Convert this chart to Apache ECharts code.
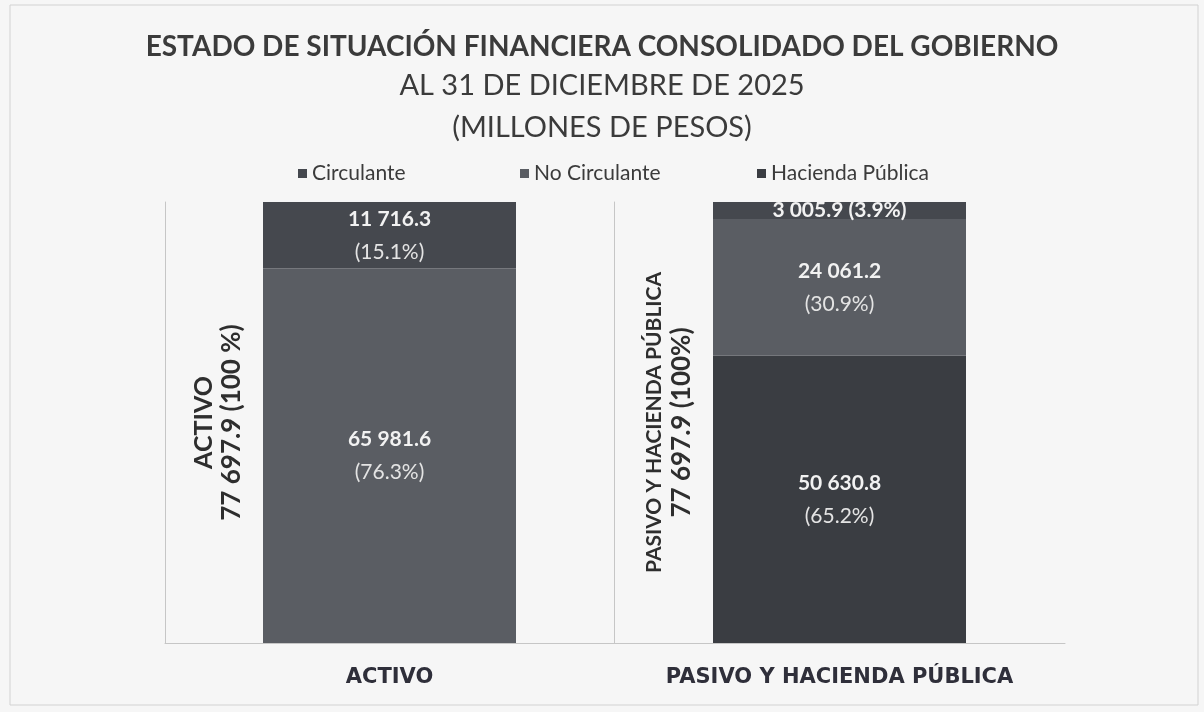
<!DOCTYPE html>
<html>
<head>
<meta charset="utf-8">
<script src="https://cdn.jsdelivr.net/npm/echarts@6/dist/echarts.min.js"></script>
<style>
  html, body { margin: 0; padding: 0; background: #f6f6f6; }
  #chart { width: 1204px; height: 712px; }
</style>
</head>
<body>
<div id="chart"></div>
<script>
// data
const categories = ['ACTIVO', 'PASIVO Y HACIENDA PÚBLICA'];
const legendNames = ['Circulante', 'No Circulante', 'Hacienda Pública'];
const circulante = [11716.3, 3005.9];
const noCirculante = [65981.6, 24061.2];
const haciendaPublica = [null, 50630.8];
const pctCirculante = ['15.1%', '3.9%'];
const pctNoCirculante = ['76.3%', '30.9%'];
const pctHacienda = [null, '65.2%'];
const totals = [77697.9, 77697.9];
const totalPct = ['100 %', '100%'];

const colCirc = '#45484e';
const colNoCirc = '#5a5d63';
const colHac = '#3a3d42';
const font = 'Lato';

const fmt = v => {
    let [i, d] = v.toFixed(1).split('.');
    i = i.replace(/\B(?=(\d{3})+(?!\d))/g, ' ');
    return i + '.' + d;
};

function segLabel(pcts, idx) {
    return {
        show: true,
        position: 'inside',
        formatter: p => {
            const pct = pcts[idx];
            if (p.value / totals[idx] < 0.05) {
                return '{v|' + fmt(p.value) + ' (' + pct + ')}';
            }
            return '{v|' + fmt(p.value) + '}\n{p|(' + pct + ')}';
        },
        rich: {
            v: { color: '#f2f2f2', fontFamily: font, fontWeight: 'bold', fontSize: 21, lineHeight: 33 },
            p: { color: '#e4e4e4', fontFamily: font, fontSize: 21, lineHeight: 33 }
        }
    };
}

const axisLineStyle = { show: true, lineStyle: { color: '#c6c6c6', width: 1 } };
const legendLeft = [293, 515, 752];

const chart = echarts.init(document.getElementById('chart'));
chart.setOption({
    backgroundColor: '#f6f6f6',
    animation: false,
    title: {
        left: 'center',
        top: 28,
        text: 'ESTADO DE SITUACIÓN FINANCIERA CONSOLIDADO DEL GOBIERNO',
        subtext: 'AL 31 DE DICIEMBRE DE 2025\n(MILLONES DE PESOS)',
        itemGap: 4,
        textStyle: { fontFamily: font, fontWeight: 'bold', fontSize: 28, color: '#3b3b3b' },
        subtextStyle: { fontFamily: font, fontSize: 29, color: '#3b3b3b', lineHeight: 42 }
    },
    legend: legendNames.map((n, i) => ({
        left: legendLeft[i],
        top: 158,
        itemWidth: 9,
        itemHeight: 9,
        itemGap: 5,
        icon: 'rect',
        data: [n],
        textStyle: { fontFamily: font, fontSize: 21, color: '#3b3b3b' }
    })),
    graphic: [{
        type: 'rect',
        shape: { x: 10, y: 5, width: 1188, height: 700 },
        style: { fill: null, stroke: '#d2d2d2', lineWidth: 1 },
        silent: true
    }],
    grid: [
        { left: 165, right: 590, top: 202, bottom: 69 },
        { left: 614, right: 139, top: 202, bottom: 69 }
    ],
    xAxis: [0, 1].map(i => ({
        type: 'category',
        gridIndex: i,
        data: [categories[i]],
        axisTick: { show: false },
        axisLine: axisLineStyle,
        axisLabel: {
            margin: 24,
            fontFamily: 'DejaVu Sans',
            fontWeight: 'bold',
            fontSize: 21,
            color: '#2f2f3a'
        }
    })),
    yAxis: [0, 1].map(i => ({
        type: 'value',
        gridIndex: i,
        min: 0,
        max: totals[i],
        axisLabel: { show: false },
        axisTick: { show: false },
        splitLine: { show: false },
        axisLine: axisLineStyle,
        name: i === 0
            ? '{a|' + categories[0] + '}\n{b|' + fmt(totals[0]) + ' (' + totalPct[0] + ')}'
            : '{c|' + categories[1] + '}\n{b|' + fmt(totals[1]) + ' (' + totalPct[1] + ')}',
        nameLocation: 'middle',
        nameRotate: 90,
        nameGap: i === 0 ? -81 : -82,
        nameTextStyle: {
            rich: {
                a: { fontFamily: font, fontWeight: 'bold', fontSize: 25, color: '#2e2e2e', lineHeight: 28 },
                b: { fontFamily: font, fontWeight: 'bold', fontSize: 26, color: '#2e2e2e', lineHeight: 28 },
                c: { fontFamily: font, fontWeight: 'bold', fontSize: 21, color: '#2e2e2e', lineHeight: 28 }
            }
        }
    })),
    series: [
        {
            name: 'No Circulante', type: 'bar', stack: 'a', xAxisIndex: 0, yAxisIndex: 0,
            barWidth: 253, data: [noCirculante[0]],
            itemStyle: { color: colNoCirc }, label: segLabel(pctNoCirculante, 0)
        },
        {
            name: 'Circulante', type: 'bar', stack: 'a', xAxisIndex: 0, yAxisIndex: 0,
            barWidth: 253, data: [circulante[0]],
            itemStyle: { color: colCirc }, label: segLabel(pctCirculante, 0)
        },
        {
            name: 'Hacienda Pública', type: 'bar', stack: 'b', xAxisIndex: 1, yAxisIndex: 1,
            barWidth: 253, data: [haciendaPublica[1]],
            itemStyle: { color: colHac }, label: segLabel(pctHacienda, 1)
        },
        {
            name: 'No Circulante', type: 'bar', stack: 'b', xAxisIndex: 1, yAxisIndex: 1,
            barWidth: 253, data: [noCirculante[1]],
            itemStyle: { color: colNoCirc }, label: segLabel(pctNoCirculante, 1)
        },
        {
            name: 'Circulante', type: 'bar', stack: 'b', xAxisIndex: 1, yAxisIndex: 1,
            barWidth: 253, data: [circulante[1]],
            itemStyle: { color: colCirc }, label: segLabel(pctCirculante, 1)
        }
    ]
});
</script>
</body>
</html>
